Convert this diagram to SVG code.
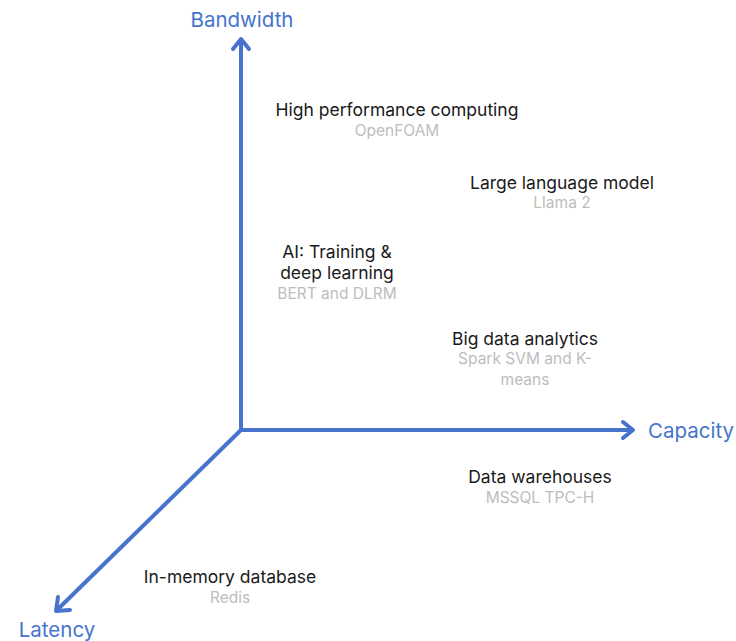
<svg xmlns="http://www.w3.org/2000/svg" width="736" height="641" viewBox="0 0 736 641">
<style>
.ax{stroke:#4674cc;stroke-width:4;fill:none;stroke-linecap:butt}
.ah{stroke:#4674cc;stroke-width:4;fill:none;stroke-linecap:round;stroke-linejoin:round}
.axl{font-family:Inter,"Liberation Sans",sans-serif;font-size:20.5px;fill:#4674cc}
.t{font-family:Inter,"Liberation Sans",sans-serif;font-size:17.5px;fill:#1a1a1a;text-anchor:middle}
.s{font-family:Inter,"Liberation Sans",sans-serif;font-size:15.5px;fill:#bdbdbd;text-anchor:middle}
</style>
<rect width="736" height="641" fill="#fff"/>
<g id="axes">
<line class="ax" x1="241" y1="430" x2="241" y2="40"/>
<polyline class="ah" points="233,49 241,39 249,49"/>
<line class="ax" x1="239" y1="430" x2="633" y2="430"/>
<polyline class="ah" points="623,422 633,430 623,438"/>
<line class="ax" x1="242" y1="429" x2="57" y2="610"/>
<polyline class="ah" points="58,597 56,611 70,610"/>
<text class="axl" x="242" y="27" text-anchor="middle">Bandwidth</text>
<text class="axl" x="648" y="438">Capacity</text>
<text class="axl" x="57" y="637" text-anchor="middle" font-size="19px">Latency</text>
</g>
<g id="hpc"><text class="t" x="397" y="116">High performance computing</text><text class="s" x="397" y="136">OpenFOAM</text></g>
<g id="llm"><text class="t" x="562" y="189">Large language model</text><text class="s" x="562" y="208">Llama 2</text></g>
<g id="ai"><text class="t" x="337" y="258">AI: Training &amp;</text><text class="t" x="337" y="279">deep learning</text><text class="s" x="337" y="299">BERT and DLRM</text></g>
<g id="bigdata"><text class="t" x="525" y="345">Big data analytics</text><text class="s" x="525" y="364">Spark SVM and K-</text><text class="s" x="525" y="385">means</text></g>
<g id="dw"><text class="t" x="540" y="483">Data warehouses</text><text class="s" x="540" y="503">MSSQL TPC-H</text></g>
<g id="imdb"><text class="t" x="230" y="583">In-memory database</text><text class="s" x="230" y="603">Redis</text></g>
</svg>
